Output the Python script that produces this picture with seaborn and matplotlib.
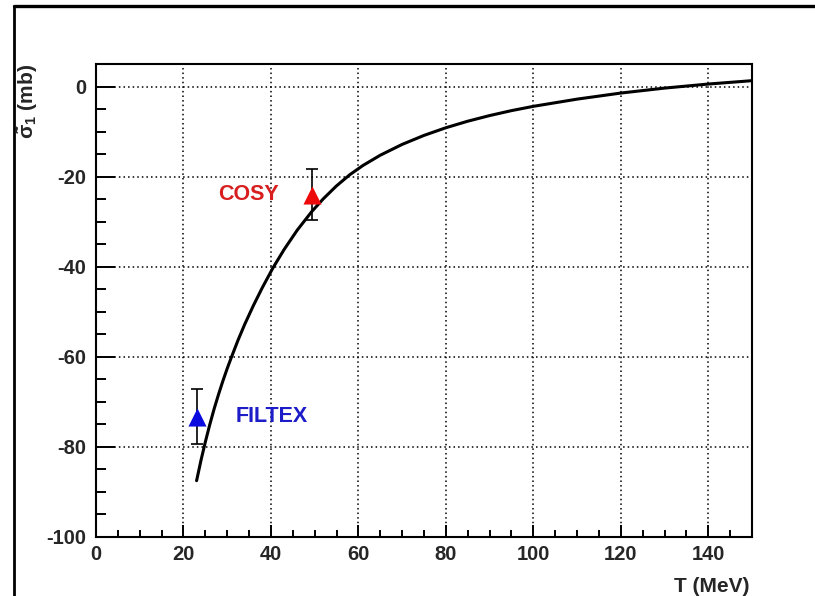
import matplotlib
matplotlib.use("Agg")
import matplotlib.pyplot as plt
from matplotlib.lines import Line2D
import seaborn as sns
import pandas as pd

# Spin-correlation cross section vs beam energy (calculated curve)
energy_mev = [23, 24, 25, 26, 27, 28, 29, 30, 31, 32.5, 34, 36, 38, 40.5, 43,
              46, 49.3, 52, 55, 58, 61, 65, 70, 75, 80, 85, 90, 95, 100, 110,
              120, 130, 140, 150]
sigma_mb = [-87.5, -83.0, -78.9, -75.1, -71.6, -68.4, -65.4, -62.6, -60.0,
            -56.25, -52.8, -48.6, -44.7, -40.2, -36.2, -31.9, -27.8, -24.9,
            -22.05, -19.6, -17.55, -15.25, -12.85, -10.85, -9.15, -7.7, -6.45,
            -5.35, -4.4, -2.8, -1.45, -0.35, 0.55, 1.3]

# Measurements
exp_names = ["FILTEX", "COSY"]
exp_energy = [23.0, 49.3]
exp_sigma = [-73.3, -24.0]
exp_err = [6.1, 5.7]
exp_colors = ["#0a0ae0", "#ee0a0a"]
label_colors = ["#1c1cc8", "#d81e1e"]
label_pos_x = [32.0, 27.9]

x_ticks = [0, 20, 40, 60, 80, 100, 120, 140]
y_ticks = [-100, -80, -60, -40, -20, 0]
x_minor = list(range(0, 151, 5))
y_minor = list(range(-100, 6, 5))

sns.set_theme(style="white")
plt.rcParams["font.family"] = ["Liberation Sans", "DejaVu Sans"]
plt.rcParams["font.weight"] = "bold"
plt.rcParams["axes.unicode_minus"] = False
plt.rcParams["mathtext.fontset"] = "custom"
plt.rcParams["mathtext.rm"] = "Liberation Sans:bold"
plt.rcParams["mathtext.it"] = "Liberation Sans:bold"
plt.rcParams["mathtext.bf"] = "Liberation Sans:bold"

fig = plt.figure(figsize=(8.15, 5.96), dpi=100)
ax = fig.add_axes([96 / 815, 1 - 537 / 596, (752 - 96) / 815, (537 - 64) / 596])

curve = pd.DataFrame({"T": energy_mev, "sigma": sigma_mb})
sns.lineplot(data=curve, x="T", y="sigma", ax=ax, color="black", lw=2.2,
             sort=False, zorder=4, solid_joinstyle="round")

for name, x, y, e, c, lc, lx in zip(exp_names, exp_energy, exp_sigma, exp_err,
                                    exp_colors, label_colors, label_pos_x):
    ax.errorbar([x], [y], yerr=[e], fmt="none", ecolor="black", elinewidth=1.2,
                capsize=4, capthick=1.2, zorder=5)
    sns.scatterplot(x=[x], y=[y], ax=ax, marker="^", s=170, color=c,
                    edgecolor=c, linewidth=0, zorder=6)
    ax.text(lx, y, name, color=lc, fontsize=15.5, fontweight="bold",
            ha="left", va="center", zorder=6)

ax.set_xlim(0, 150)
ax.set_ylim(-100, 5)
ax.set_xticks(x_ticks, labels=[str(v) for v in x_ticks], fontweight="bold",
              fontsize=14.5)
ax.set_yticks(y_ticks, labels=[str(v) for v in y_ticks], fontweight="bold",
              fontsize=14.5)
ax.set_xticks(x_minor, minor=True)
ax.set_yticks(y_minor, minor=True)

ax.grid(True, which="major", color="black", lw=1.1, linestyle=(0, (1, 2)))
for s in ax.spines.values():
    s.set_color("black")
    s.set_linewidth(1.5)

ax.tick_params(axis="both", which="both", direction="in", color="black",
               width=1.4, bottom=True, left=True, top=False, right=False)
ax.tick_params(axis="x", which="major", length=8.6, pad=5.8)
ax.tick_params(axis="x", which="minor", length=5)
ax.tick_params(axis="y", which="major", length=13.7, pad=7.2)
ax.tick_params(axis="y", which="minor", length=7.2)

ax.set_xlabel("")
ax.set_ylabel("")
fig.text(750 / 815, 1 - 587 / 596, "T (MeV)", fontsize=15, fontweight="bold",
         ha="right", va="center")
fig.text(28 / 815, 1 - 64 / 596, r"$\tilde{\sigma}_1$ (mb)", fontsize=15,
         fontweight="bold", rotation=90, ha="center", va="top")

# canvas frame
fig.add_artist(Line2D([13.5 / 815, 13.5 / 815], [0, 1 - 5.5 / 596],
                      transform=fig.transFigure, color="black", lw=2))
fig.add_artist(Line2D([13.5 / 815, 1], [1 - 5.5 / 596, 1 - 5.5 / 596],
                      transform=fig.transFigure, color="black", lw=2.4))

fig.savefig("out.png", dpi=100)
